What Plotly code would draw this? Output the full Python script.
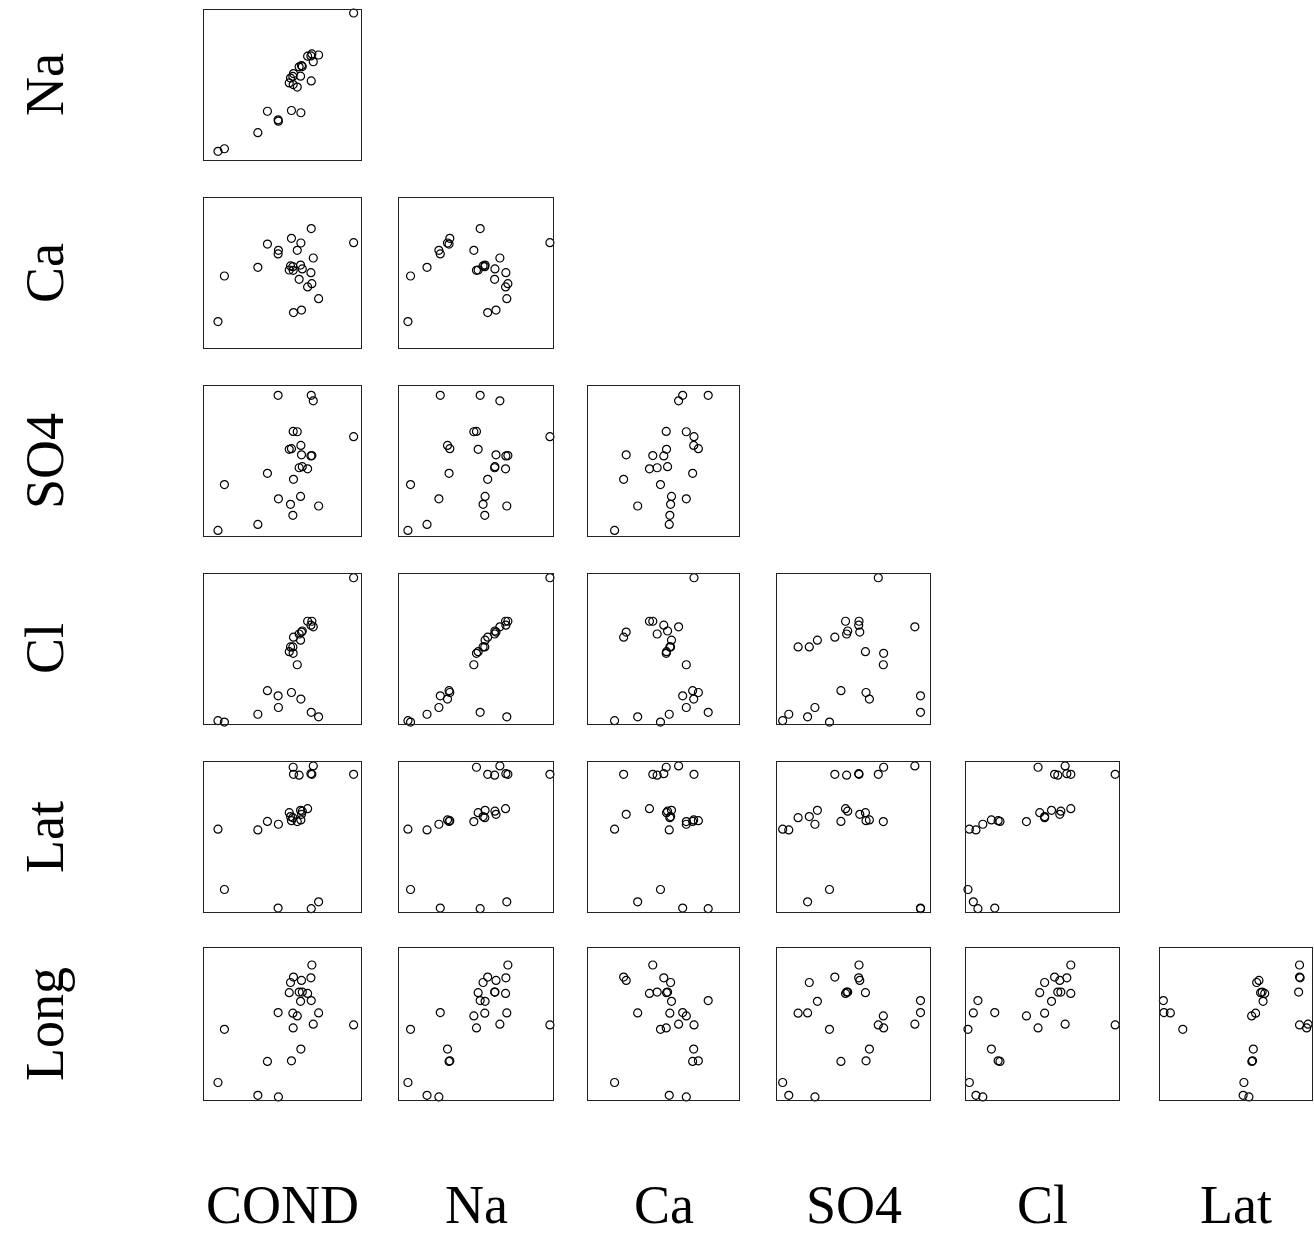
import plotly.graph_objects as go

# Water-chemistry survey: 25 sampling sites, each variable rescaled to 0-100
variables = ["COND", "Na", "Ca", "SO4", "Cl", "Lat", "Long"]

COND = [68.7, 57.0, 68.1, 62.1, 55.1, 54.3, 60.6, 62.6, 66.0, 61.5, 68.3, 47.2, 56.6,
        73.0, 59.4, 69.6, 95.3, 56.8, 13.0, 61.7, 55.7, 40.4, 8.9, 34.3, 47.4]
Na = [70.7, 57.6, 69.4, 63.0, 54.6, 51.4, 62.1, 62.3, 69.2, 55.9, 52.7, 26.8, 55.7,
      70.0, 48.6, 65.5, 98.0, 50.3, 7.5, 31.5, 33.0, 32.5, 5.8, 18.2, 25.9]
Ca = [42.9, 23.6, 50.2, 25.3, 54.7, 52.0, 45.8, 52.7, 40.7, 55.3, 79.6, 62.7, 54.2,
      32.9, 65.1, 60.0, 70.2, 51.8, 48.0, 70.0, 73.1, 69.3, 17.6, 53.8, 65.1]
SO4 = [53.6, 37.8, 53.4, 54.1, 21.1, 57.8, 45.5, 46.2, 44.8, 26.4, 93.8, 93.8, 13.8,
       20.0, 69.5, 90.1, 66.2, 69.7, 34.3, 60.4, 58.2, 41.8, 3.7, 7.7, 24.8]
Cl = [68.5, 57.9, 65.9, 61.3, 51.4, 48.2, 60.0, 62.0, 68.5, 55.9, 7.8, 18.8, 51.4,
      4.8, 39.5, 64.8, 97.5, 47.1, 1.3, 16.6, 21.0, 22.2, 2.2, 6.5, 11.0]
Lat = [91.8, 91.8, 92.2, 65.1, 63.6, 66.2, 91.2, 67.2, 68.9, 67.8, 2.2, 2.6, 62.9,
       6.8, 60.3, 97.4, 91.8, 96.5, 15.0, 61.4, 60.9, 60.4, 55.2, 54.7, 58.5]
Long = [88.8, 80.9, 80.4, 78.7, 77.3, 70.6, 71.0, 71.0, 70.1, 64.9, 65.4, 57.5, 57.1,
        57.3, 55.3, 49.9, 49.4, 47.4, 46.5, 33.5, 25.8, 25.4, 11.5, 3.1, 2.0]

data = {"COND": COND, "Na": Na, "Ca": Ca, "SO4": SO4, "Cl": Cl, "Lat": Lat, "Long": Long}

W, H = 1314, 1237
# panel edges in pixels
col_edges = [(204, 361), (399, 553), (588, 739), (777, 930), (966, 1119), (1160, 1312)]
row_edges = [(10, 160), (198, 348), (386, 536), (574, 724), (762, 912), (948, 1100)]

fig = go.Figure()
layout = {}
serif = "Liberation Serif, Times New Roman, serif"

n = 0
for i in range(6):
    yvar = variables[i + 1]
    for j in range(i + 1):
        xvar = variables[j]
        n += 1
        xa = "x" if n == 1 else f"x{n}"
        ya = "y" if n == 1 else f"y{n}"
        fig.add_trace(go.Scatter(
            x=data[xvar], y=data[yvar], xaxis=xa, yaxis=ya, mode="markers",
            marker=dict(symbol="circle-open", size=8, color="black",
                        line=dict(width=1.2, color="black")),
            cliponaxis=False, showlegend=False, hoverinfo="skip"))
        l, r = col_edges[j]
        t, b = row_edges[i]
        axis_style = dict(range=[0, 100], showgrid=False, zeroline=False,
                          showticklabels=False, ticks="", showline=True, mirror=True,
                          linecolor="#222", linewidth=1.2, fixedrange=True)
        layout["xaxis" if n == 1 else f"xaxis{n}"] = dict(
            domain=[l / W, r / W], anchor=ya, **axis_style)
        layout["yaxis" if n == 1 else f"yaxis{n}"] = dict(
            domain=[1 - b / H, 1 - t / H], anchor=xa, **axis_style)

annotations = []
for i in range(6):
    t, b = row_edges[i]
    annotations.append(dict(
        text=variables[i + 1], xref="paper", yref="paper",
        x=45 / W, y=1 - (t + b) / 2 / H, xanchor="center", yanchor="middle",
        textangle=-90, showarrow=False, font=dict(family=serif, size=54, color="black")))
for j in range(6):
    l, r = col_edges[j]
    annotations.append(dict(
        text=variables[j], xref="paper", yref="paper",
        x=(l + r) / 2 / W, y=0, xanchor="center", yanchor="bottom",
        showarrow=False, font=dict(family=serif, size=54, color="black")))

fig.update_layout(width=W, height=H, margin=dict(l=0, r=0, t=0, b=0),
                  paper_bgcolor="white", plot_bgcolor="white",
                  annotations=annotations, **layout)

fig.write_html("out.html")
